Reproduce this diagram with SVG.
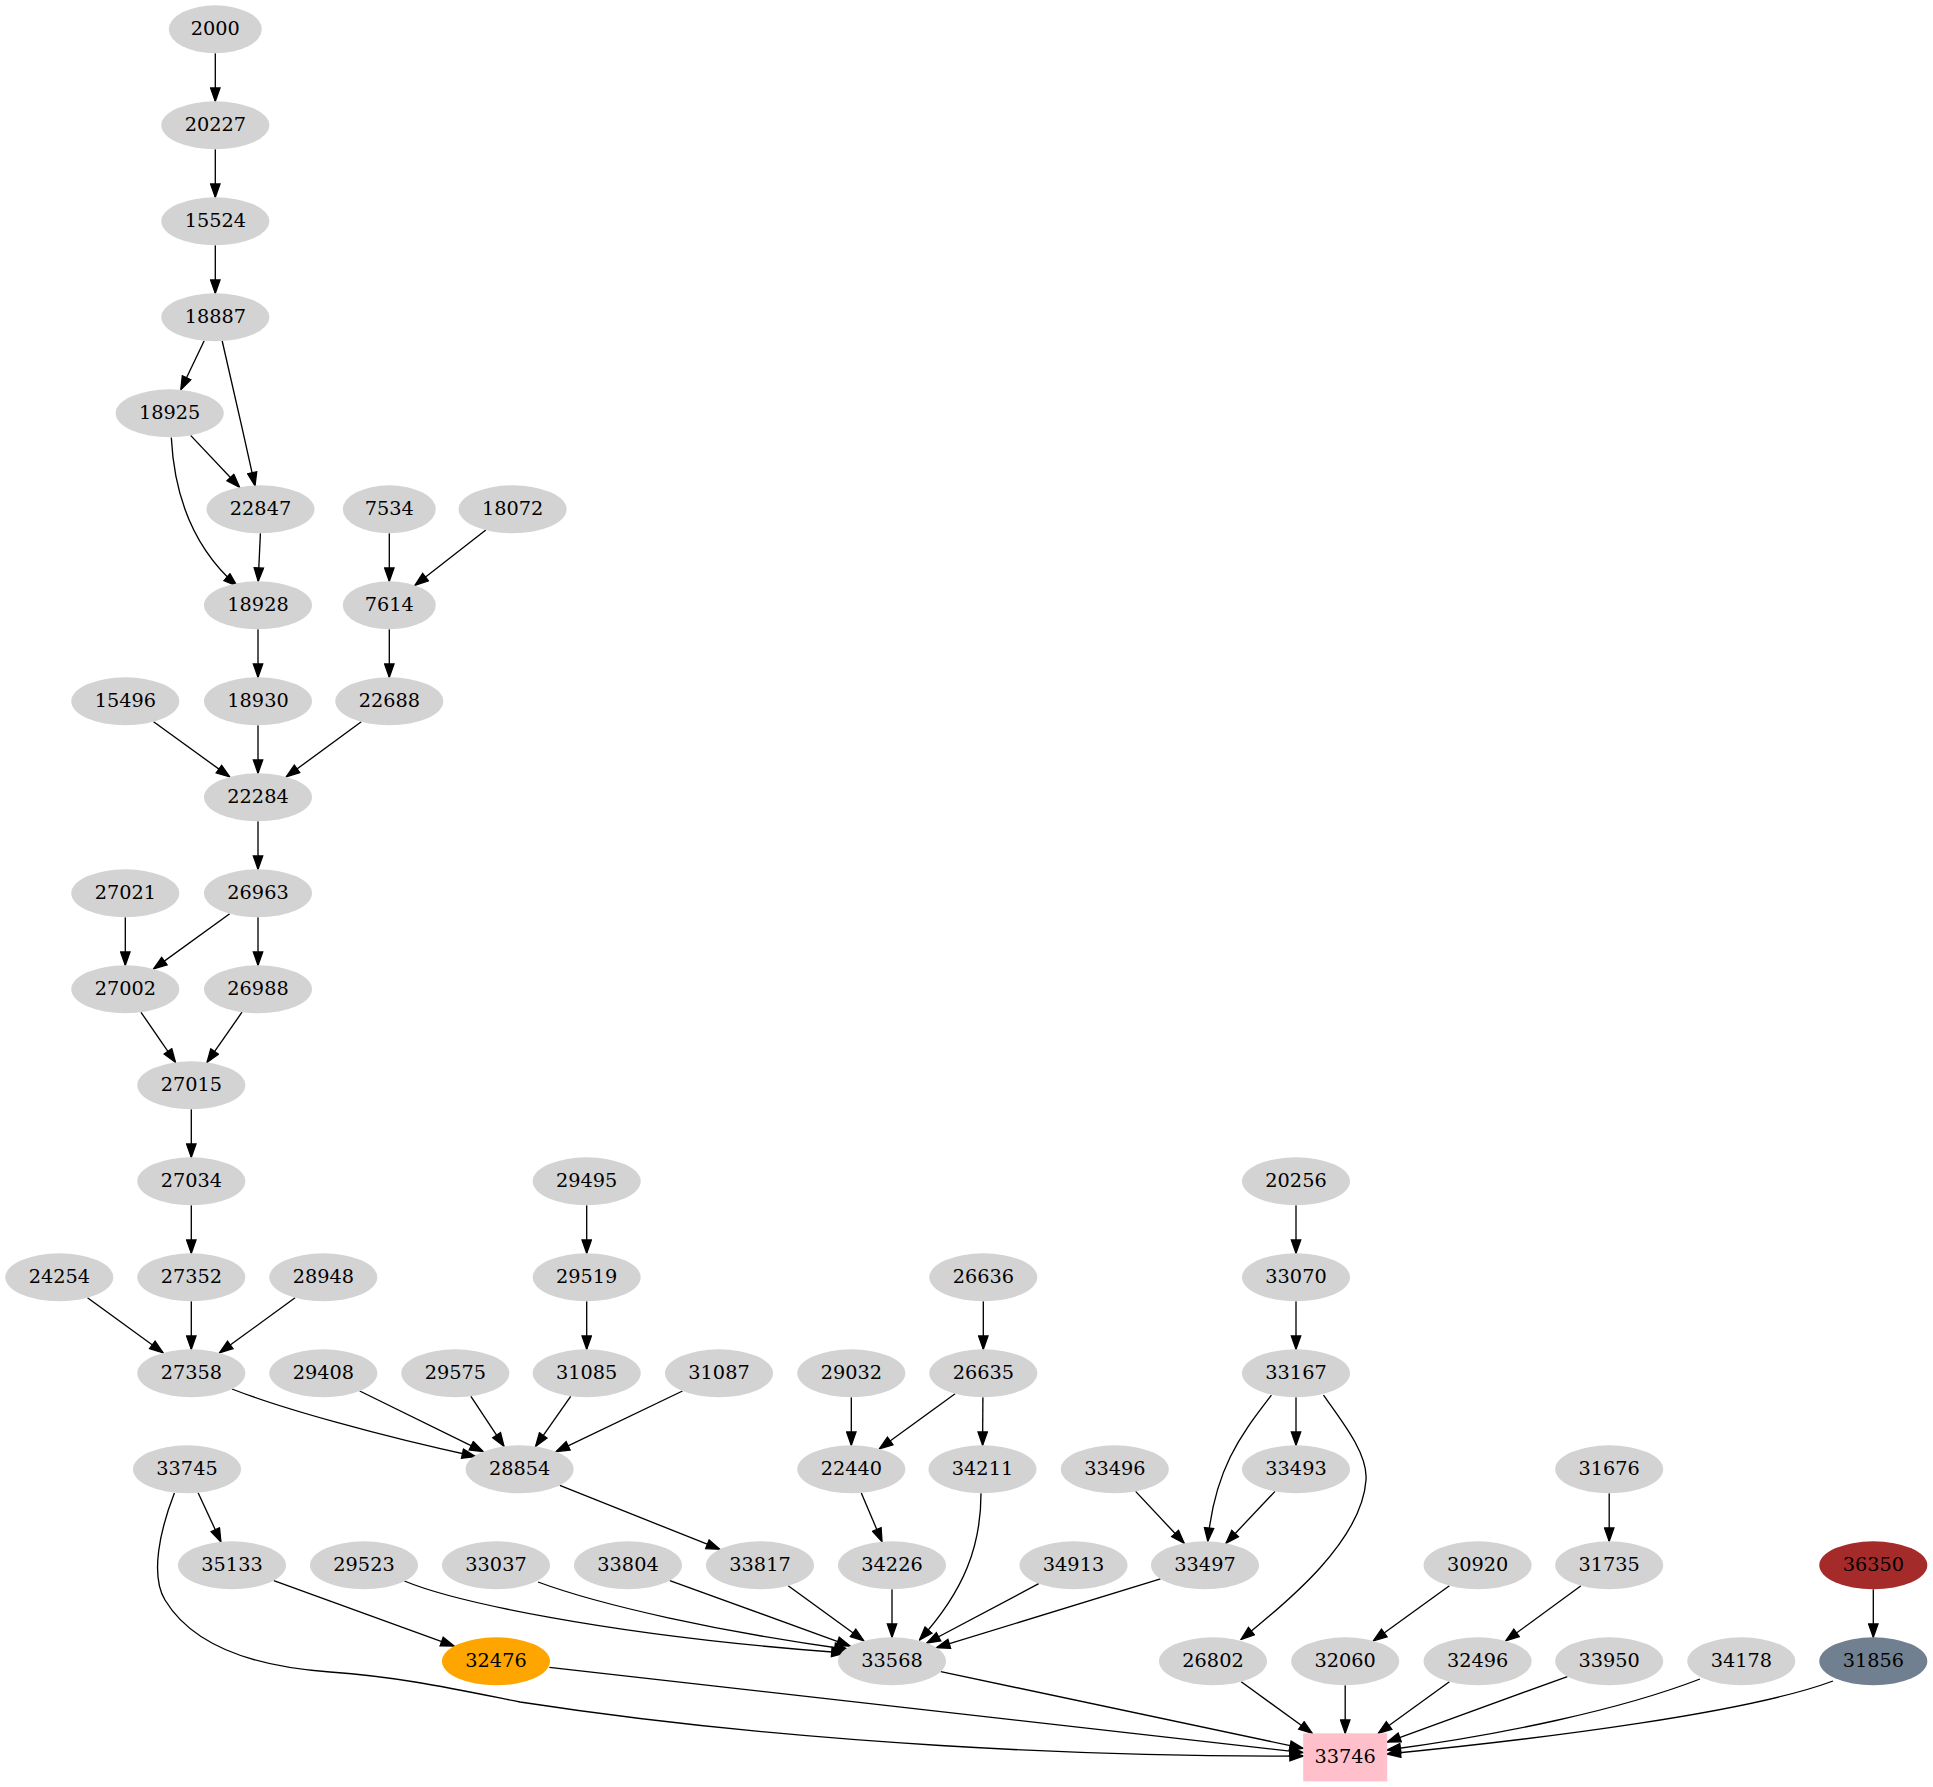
<svg xmlns="http://www.w3.org/2000/svg" width="1933" height="1787" viewBox="0 0 1933 1787">
<style>
.node ellipse{fill:#d3d3d3;}
.node text{font-family:"DejaVu Serif",serif;font-size:19.3px;text-anchor:middle;fill:#000;}
.edges path{fill:none;stroke:#000;stroke-width:1.33;marker-end:url(#arr);}
</style>
<defs>
<marker id="arr" markerUnits="userSpaceOnUse" viewBox="-1 -1 15.33 11.33" refX="13.33" refY="4.67" markerWidth="15.33" markerHeight="11.33" orient="auto">
<path d="M0,0 L13.33,4.67 L0,9.33 z" fill="#000" stroke="#000" stroke-width="1.33"/>
</marker>
</defs>
<rect width="1933" height="1787" fill="#fff"/>
<g class="edges" id="edges">
<path d="M215.3,53.3 L215.3,101.3"/>
<path d="M215.3,149.3 L215.3,197.3"/>
<path d="M215.3,245.3 L215.3,293.3"/>
<path d="M204.2,340.8 L180.8,389.8"/>
<path d="M222.2,341 C230,375 245,440 255,485.8"/>
<path d="M190.6,435.4 L239.6,487.2"/>
<path d="M171.3,437.5 C174,490 190,545 237,586"/>
<path d="M260.4,533.3 L258.2,581.3"/>
<path d="M389.3,533.3 L389.3,581.3"/>
<path d="M485.8,530.1 L415,585.3"/>
<path d="M258,629.3 L258,677.3"/>
<path d="M389.3,629.3 L389.3,677.3"/>
<path d="M153.6,721.7 L229.7,776.9"/>
<path d="M258,725.3 L258,773.3"/>
<path d="M361.3,721.8 L286.3,776.8"/>
<path d="M258,821.3 L258,869.3"/>
<path d="M125.3,917.3 L125.3,965.3"/>
<path d="M229.7,913.7 L153.6,968.9"/>
<path d="M258,917.3 L258,965.3"/>
<path d="M141,1012.3 L175.5,1062.3"/>
<path d="M242,1012.2 L207,1062.4"/>
<path d="M191.3,1109.3 L191.3,1157.3"/>
<path d="M191.3,1205.3 L191.3,1253.3"/>
<path d="M87.5,1297.8 L163.1,1352.8"/>
<path d="M191.3,1301.3 L191.3,1349.3"/>
<path d="M295.1,1297.8 L219.5,1352.8"/>
<path d="M586.7,1205.3 L586.7,1253.3"/>
<path d="M586.7,1301.3 L586.7,1349.3"/>
<path d="M232,1389 C280,1408 380,1436 475.5,1456.5"/>
<path d="M359.7,1391 L483.2,1451.6"/>
<path d="M470.9,1396.3 L504,1446.3"/>
<path d="M570.7,1396.3 L535.6,1446.3"/>
<path d="M682.5,1391 L556.1,1451.6"/>
<path d="M983.3,1301.3 L983.3,1349.3"/>
<path d="M851.3,1397.3 L851.3,1445.3"/>
<path d="M955.1,1393.8 L879.4,1448.8"/>
<path d="M982.9,1397.3 L982.6,1445.3"/>
<path d="M1296,1205.3 L1296,1253.3"/>
<path d="M1296,1301.3 L1296,1349.3"/>
<path d="M1296,1397.3 L1296,1445.3"/>
<path d="M1271.4,1395.2 C1245,1430 1215,1465 1207.8,1541.3"/>
<path d="M1323.5,1395.2 C1345,1425 1368,1455 1366,1480 C1362,1540 1290,1600 1241,1639.5"/>
<path d="M1135.6,1491.4 L1184.2,1543.2"/>
<path d="M1275,1491.4 L1226,1543.2"/>
<path d="M198.1,1492.8 L220.9,1541.8"/>
<path d="M174.4,1493 C160,1530 150,1575 165,1600 C185,1633 230,1665 330,1672 C400,1677 450,1688 520,1702 C800,1745 1100,1757 1303.2,1756"/>
<path d="M559.8,1485.4 L719.8,1549.2"/>
<path d="M861.3,1492.9 L882,1541.7"/>
<path d="M1609.2,1493.3 L1609.2,1541.3"/>
<path d="M273.8,1580.5 L454.2,1646.1"/>
<path d="M404.4,1581 C450,1600 600,1635 845,1653"/>
<path d="M538,1582 C600,1605 720,1632 848,1649.5"/>
<path d="M669.8,1580.5 L850.2,1646.1"/>
<path d="M788.2,1585.8 L863.8,1640.8"/>
<path d="M892,1589.3 L892,1637.3"/>
<path d="M981,1493.3 C981,1545 965,1590 919.5,1640"/>
<path d="M1038.7,1583.7 L926.8,1643"/>
<path d="M1160.5,1578.9 L936.5,1647.7"/>
<path d="M1449.4,1585.8 L1373.4,1640.8"/>
<path d="M1581,1585.8 L1505.8,1640.8"/>
<path d="M1873.3,1589.3 L1873.3,1637.3"/>
<path d="M549.4,1667.3 L1303.2,1752.6"/>
<path d="M940.8,1671.6 L1303.2,1748.4"/>
<path d="M1241.2,1681.8 L1312.2,1733.3"/>
<path d="M1345.2,1685.3 L1345.2,1733.3"/>
<path d="M1449.4,1681.8 L1378.3,1733.3"/>
<path d="M1567.4,1676.5 L1387.2,1742"/>
<path d="M1700,1679 C1620,1710 1500,1735 1387.2,1750"/>
<path d="M1833,1681 C1750,1712 1550,1738 1387.2,1754"/>
</g>
<g id="n2000" class="node"><ellipse cx="215.3" cy="29.3" rx="46.5" ry="24"/><text x="215.3" y="34.8">2000</text></g>
<g id="n20227" class="node"><ellipse cx="215.3" cy="125.3" rx="54" ry="24"/><text x="215.3" y="130.8">20227</text></g>
<g id="n15524" class="node"><ellipse cx="215.3" cy="221.3" rx="54" ry="24"/><text x="215.3" y="226.8">15524</text></g>
<g id="n18887" class="node"><ellipse cx="215.3" cy="317.3" rx="54" ry="24"/><text x="215.3" y="322.8">18887</text></g>
<g id="n18925" class="node"><ellipse cx="169.7" cy="413.3" rx="54" ry="24"/><text x="169.7" y="418.8">18925</text></g>
<g id="n22847" class="node"><ellipse cx="260.5" cy="509.3" rx="54" ry="24"/><text x="260.5" y="514.8">22847</text></g>
<g id="n7534" class="node"><ellipse cx="389.3" cy="509.3" rx="46.5" ry="24"/><text x="389.3" y="514.8">7534</text></g>
<g id="n18072" class="node"><ellipse cx="512.6" cy="509.3" rx="54" ry="24"/><text x="512.6" y="514.8">18072</text></g>
<g id="n18928" class="node"><ellipse cx="258" cy="605.3" rx="54" ry="24"/><text x="258" y="610.8">18928</text></g>
<g id="n7614" class="node"><ellipse cx="389.3" cy="605.3" rx="46.5" ry="24"/><text x="389.3" y="610.8">7614</text></g>
<g id="n15496" class="node"><ellipse cx="125.3" cy="701.3" rx="54" ry="24"/><text x="125.3" y="706.8">15496</text></g>
<g id="n18930" class="node"><ellipse cx="258" cy="701.3" rx="54" ry="24"/><text x="258" y="706.8">18930</text></g>
<g id="n22688" class="node"><ellipse cx="389.3" cy="701.3" rx="54" ry="24"/><text x="389.3" y="706.8">22688</text></g>
<g id="n22284" class="node"><ellipse cx="258" cy="797.3" rx="54" ry="24"/><text x="258" y="802.8">22284</text></g>
<g id="n27021" class="node"><ellipse cx="125.3" cy="893.3" rx="54" ry="24"/><text x="125.3" y="898.8">27021</text></g>
<g id="n26963" class="node"><ellipse cx="258" cy="893.3" rx="54" ry="24"/><text x="258" y="898.8">26963</text></g>
<g id="n27002" class="node"><ellipse cx="125.3" cy="989.3" rx="54" ry="24"/><text x="125.3" y="994.8">27002</text></g>
<g id="n26988" class="node"><ellipse cx="258" cy="989.3" rx="54" ry="24"/><text x="258" y="994.8">26988</text></g>
<g id="n27015" class="node"><ellipse cx="191.3" cy="1085.3" rx="54" ry="24"/><text x="191.3" y="1090.8">27015</text></g>
<g id="n27034" class="node"><ellipse cx="191.3" cy="1181.3" rx="54" ry="24"/><text x="191.3" y="1186.8">27034</text></g>
<g id="n29495" class="node"><ellipse cx="586.7" cy="1181.3" rx="54" ry="24"/><text x="586.7" y="1186.8">29495</text></g>
<g id="n20256" class="node"><ellipse cx="1296" cy="1181.3" rx="54" ry="24"/><text x="1296" y="1186.8">20256</text></g>
<g id="n24254" class="node"><ellipse cx="59.3" cy="1277.3" rx="54" ry="24"/><text x="59.3" y="1282.8">24254</text></g>
<g id="n27352" class="node"><ellipse cx="191.3" cy="1277.3" rx="54" ry="24"/><text x="191.3" y="1282.8">27352</text></g>
<g id="n28948" class="node"><ellipse cx="323.3" cy="1277.3" rx="54" ry="24"/><text x="323.3" y="1282.8">28948</text></g>
<g id="n29519" class="node"><ellipse cx="586.7" cy="1277.3" rx="54" ry="24"/><text x="586.7" y="1282.8">29519</text></g>
<g id="n26636" class="node"><ellipse cx="983.3" cy="1277.3" rx="54" ry="24"/><text x="983.3" y="1282.8">26636</text></g>
<g id="n33070" class="node"><ellipse cx="1296" cy="1277.3" rx="54" ry="24"/><text x="1296" y="1282.8">33070</text></g>
<g id="n27358" class="node"><ellipse cx="191.3" cy="1373.3" rx="54" ry="24"/><text x="191.3" y="1378.8">27358</text></g>
<g id="n29408" class="node"><ellipse cx="323.3" cy="1373.3" rx="54" ry="24"/><text x="323.3" y="1378.8">29408</text></g>
<g id="n29575" class="node"><ellipse cx="455.3" cy="1373.3" rx="54" ry="24"/><text x="455.3" y="1378.8">29575</text></g>
<g id="n31085" class="node"><ellipse cx="586.7" cy="1373.3" rx="54" ry="24"/><text x="586.7" y="1378.8">31085</text></g>
<g id="n31087" class="node"><ellipse cx="719" cy="1373.3" rx="54" ry="24"/><text x="719" y="1378.8">31087</text></g>
<g id="n29032" class="node"><ellipse cx="851.3" cy="1373.3" rx="54" ry="24"/><text x="851.3" y="1378.8">29032</text></g>
<g id="n26635" class="node"><ellipse cx="983.3" cy="1373.3" rx="54" ry="24"/><text x="983.3" y="1378.8">26635</text></g>
<g id="n33167" class="node"><ellipse cx="1296" cy="1373.3" rx="54" ry="24"/><text x="1296" y="1378.8">33167</text></g>
<g id="n33745" class="node"><ellipse cx="187" cy="1469.3" rx="54" ry="24"/><text x="187" y="1474.8">33745</text></g>
<g id="n28854" class="node"><ellipse cx="519.6" cy="1469.3" rx="54" ry="24"/><text x="519.6" y="1474.8">28854</text></g>
<g id="n22440" class="node"><ellipse cx="851.3" cy="1469.3" rx="54" ry="24"/><text x="851.3" y="1474.8">22440</text></g>
<g id="n34211" class="node"><ellipse cx="982.5" cy="1469.3" rx="54" ry="24"/><text x="982.5" y="1474.8">34211</text></g>
<g id="n33496" class="node"><ellipse cx="1114.8" cy="1469.3" rx="54" ry="24"/><text x="1114.8" y="1474.8">33496</text></g>
<g id="n33493" class="node"><ellipse cx="1296" cy="1469.3" rx="54" ry="24"/><text x="1296" y="1474.8">33493</text></g>
<g id="n31676" class="node"><ellipse cx="1609.2" cy="1469.3" rx="54" ry="24"/><text x="1609.2" y="1474.8">31676</text></g>
<g id="n35133" class="node"><ellipse cx="232" cy="1565.3" rx="54" ry="24"/><text x="232" y="1570.8">35133</text></g>
<g id="n29523" class="node"><ellipse cx="364" cy="1565.3" rx="54" ry="24"/><text x="364" y="1570.8">29523</text></g>
<g id="n33037" class="node"><ellipse cx="496" cy="1565.3" rx="54" ry="24"/><text x="496" y="1570.8">33037</text></g>
<g id="n33804" class="node"><ellipse cx="628" cy="1565.3" rx="54" ry="24"/><text x="628" y="1570.8">33804</text></g>
<g id="n33817" class="node"><ellipse cx="760" cy="1565.3" rx="54" ry="24"/><text x="760" y="1570.8">33817</text></g>
<g id="n34226" class="node"><ellipse cx="892" cy="1565.3" rx="54" ry="24"/><text x="892" y="1570.8">34226</text></g>
<g id="n34913" class="node"><ellipse cx="1073.5" cy="1565.3" rx="54" ry="24"/><text x="1073.5" y="1570.8">34913</text></g>
<g id="n33497" class="node"><ellipse cx="1205" cy="1565.3" rx="54" ry="24"/><text x="1205" y="1570.8">33497</text></g>
<g id="n30920" class="node"><ellipse cx="1477.6" cy="1565.3" rx="54" ry="24"/><text x="1477.6" y="1570.8">30920</text></g>
<g id="n31735" class="node"><ellipse cx="1609.2" cy="1565.3" rx="54" ry="24"/><text x="1609.2" y="1570.8">31735</text></g>
<g id="n36350" class="node"><ellipse cx="1873.3" cy="1565.3" rx="54" ry="24" style="fill:#a52a2a"/><text x="1873.3" y="1570.8">36350</text></g>
<g id="n32476" class="node"><ellipse cx="496" cy="1661.3" rx="54" ry="24" style="fill:#ffa500"/><text x="496" y="1666.8">32476</text></g>
<g id="n33568" class="node"><ellipse cx="892" cy="1661.3" rx="54" ry="24"/><text x="892" y="1666.8">33568</text></g>
<g id="n26802" class="node"><ellipse cx="1213" cy="1661.3" rx="54" ry="24"/><text x="1213" y="1666.8">26802</text></g>
<g id="n32060" class="node"><ellipse cx="1345.2" cy="1661.3" rx="54" ry="24"/><text x="1345.2" y="1666.8">32060</text></g>
<g id="n32496" class="node"><ellipse cx="1477.6" cy="1661.3" rx="54" ry="24"/><text x="1477.6" y="1666.8">32496</text></g>
<g id="n33950" class="node"><ellipse cx="1609.2" cy="1661.3" rx="54" ry="24"/><text x="1609.2" y="1666.8">33950</text></g>
<g id="n34178" class="node"><ellipse cx="1741.3" cy="1661.3" rx="54" ry="24"/><text x="1741.3" y="1666.8">34178</text></g>
<g id="n31856" class="node"><ellipse cx="1873.3" cy="1661.3" rx="54" ry="24" style="fill:#708090"/><text x="1873.3" y="1666.8">31856</text></g>
<g id="n33746" class="node"><rect x="1303.2" y="1733.3" width="84" height="48" fill="#ffc0cb"/><text x="1345.2" y="1762.8">33746</text></g>
</svg>
